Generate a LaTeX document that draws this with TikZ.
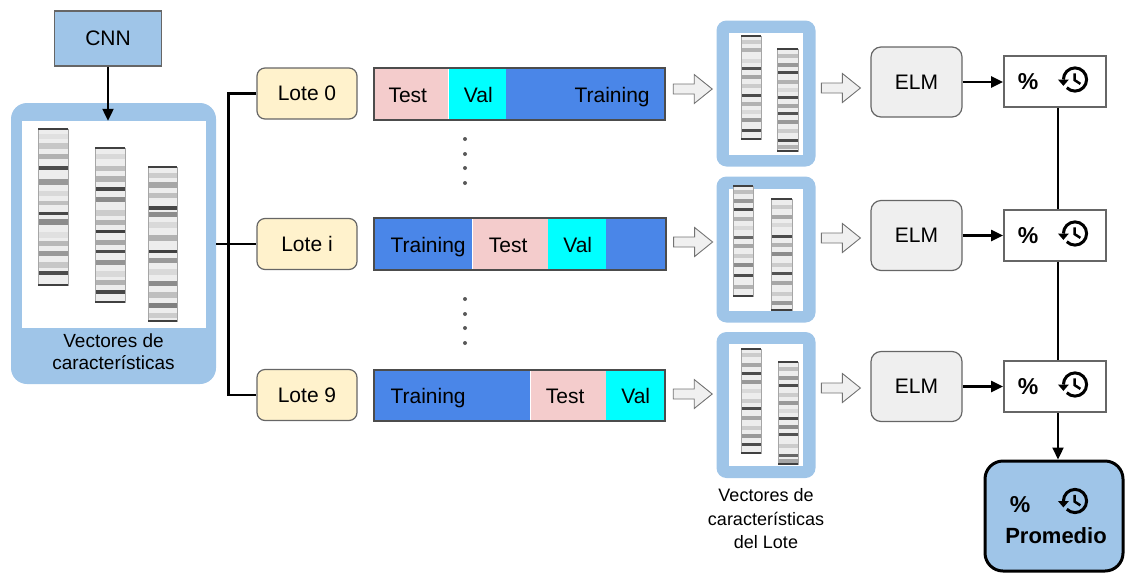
\documentclass[tikz,border=0pt]{standalone}
\usepackage{fontspec}
\setmainfont{Liberation Sans}
\usetikzlibrary{arrows.meta,positioning}

\definecolor{panelblue}{HTML}{9FC5E8}
\definecolor{lotefill}{HTML}{FFF2CC}
\definecolor{testfill}{HTML}{F4CCCC}
\definecolor{valfill}{HTML}{00FFFF}
\definecolor{trainfill}{HTML}{4A86E8}
\definecolor{elmfill}{HTML}{EFEFEF}
\definecolor{edgegray}{HTML}{666666}

% one feature vector drawn as a grey strip: x, y top, width, height, bands pos/shade/thickness
\newcommand{\vecstrip}[5]{%
	\fill[black!7] (#1,#2) rectangle ++(#3,#4);
	\foreach \p/\s/\h in {#5}{
		\fill[black!\s] (#1,{#2+\p*#4}) rectangle ++(#3,\h);
	}
	\draw[black!35, line width=0.8] (#1,#2) rectangle ++(#3,#4);
	\draw[black!75, line width=1.6] (#1,#2) -- ++(#3,0) (#1,{#2+#4}) -- ++(#3,0);
}

\tikzset{
	box/.style={draw=edgegray, line width=1.2, inner sep=0},
	lote/.style={box, fill=lotefill, rounded corners=8, minimum width=100, minimum height=51},
	seg/.style={inner sep=0, minimum height=51, anchor=west},
	barline/.style={draw=black!70, line width=2},
	panel/.style={fill=panelblue, rounded corners=10, inner sep=0, minimum width=99, minimum height=146},
	panelin/.style={fill=white, inner sep=0, minimum width=74, minimum height=122},
	elm/.style={box, fill=elmfill, rounded corners=10, minimum width=91, minimum height=70},
	res/.style={box, fill=white, line width=1.8, minimum width=102, minimum height=51},
	pct/.style={font=\bfseries\fontsize{23}{25}\selectfont},
	flow/.style={line width=2.2, -{Triangle[length=12pt, width=11pt]}},
	link/.style={line width=2.2},
	hollowarrow/.pic={
		\draw[black!55, fill=black!6, line width=0.9] (0,-5) -- (21,-5) -- (21,-14.5) -- (39,0) -- (21,14.5) -- (21,5) -- (0,5) -- cycle;
	},
	histicon/.pic={
		\begin{scope}[yscale=-1, scale=1.45]
			\draw[line width=3] (-8,0) arc[start angle=180, end angle=-135, radius=8];
			\fill (-11.8,0) -- (-4.2,0) -- (-8,-4.4) -- cycle;
			\draw[line width=2.5] (-0.3,4.3) -- (-0.3,-0.4) -- (3.7,-3);
		\end{scope}
	}
}

\begin{document}
\begin{tikzpicture}[x=1pt, y=-1pt, font=\fontsize{21}{25}\selectfont]
	\useasboundingbox (0,0) rectangle (1126,574);

	% CNN and the full set of vectors
	\node[box, fill=panelblue, minimum width=107, minimum height=55] (cnn) at (108,38.5) {CNN};
	\node[fill=panelblue, rounded corners=16, inner sep=0, minimum width=205, minimum height=281] (big) at (113.5,243.5) {};
	\node[fill=white, inner sep=0, minimum width=184, minimum height=207] (bigin) at (114,224.5) {};
	\node[align=center, font=\fontsize{19}{22}\selectfont] (bigcap) at (113.5,352) {Vectores de\\características};
	\draw[flow] (cnn.south) -- (cnn.south |- bigin.north);

	\vecstrip{38}{129}{30}{156}{0.03/12/5, 0.09/22/6, 0.16/30/5, 0.24/70/4, 0.32/40/6, 0.40/15/5, 0.46/25/4, 0.53/72/3, 0.58/45/6, 0.66/12/6, 0.72/28/5, 0.78/40/5, 0.85/22/6, 0.91/70/4}
	\vecstrip{95}{148}{30}{154}{0.04/15/5, 0.12/25/5, 0.18/30/6, 0.25/72/4, 0.32/45/5, 0.40/20/6, 0.47/30/5, 0.53/75/3, 0.60/35/5, 0.66/70/3, 0.73/42/5, 0.80/15/6, 0.86/30/5, 0.92/72/4}
	\vecstrip{148}{167}{29}{154}{0.04/20/5, 0.10/35/6, 0.17/25/5, 0.25/72/4, 0.29/45/5, 0.36/15/6, 0.44/30/6, 0.54/75/3, 0.59/40/5, 0.66/15/6, 0.74/45/5, 0.81/25/6, 0.88/50/5, 0.95/20/5}

	% batches
	\node[lote] (lote0) at (307,93.5) {Lote 0};
	\node[lote] (lotei) at (307,244) {Lote i};
	\node[lote] (lote9) at (307,395) {Lote 9};
	\draw[link] (big.east |- lotei.west) -- (lotei.west);
	\draw[link] (lote0.west) -- ++(-28,0) |- (lote9.west);

	% splits of each batch
	\node[seg, fill=testfill, minimum width=74] (test0) at (374,94) {};
	\node[seg, fill=valfill, minimum width=57, right=0pt of test0] (val0) {};
	\node[seg, fill=trainfill, minimum width=159, right=0pt of val0] (train0) {};
	\draw[barline] (test0.north west) rectangle (train0.south east);
	\node[anchor=base west] at ([xshift=11,yshift=-8]test0.west) {Test};
	\node[anchor=base west] at ([xshift=12,yshift=-8]val0.west) {Val};
	\node[anchor=base east] at ([xshift=-12,yshift=-8]train0.east) {Training};

	\node[seg, fill=trainfill, minimum width=98] (traini) at (374,244) {};
	\node[seg, fill=testfill, minimum width=75, right=0pt of traini] (testi) {};
	\node[seg, fill=valfill, minimum width=58, right=0pt of testi] (vali) {};
	\node[seg, fill=trainfill, minimum width=59, right=0pt of vali] (resti) {};
	\draw[barline] (traini.north west) rectangle (resti.south east);
	\node[anchor=base west] at ([xshift=13,yshift=-8]traini.west) {Training};
	\node[anchor=base west] at ([xshift=13,yshift=-8]testi.west) {Test};
	\node[anchor=base west] at ([xshift=12,yshift=-8]vali.west) {Val};

	\node[seg, fill=trainfill, minimum width=156] (train9) at (374,395.5) {};
	\node[seg, fill=testfill, minimum width=75, right=0pt of train9] (test9) {};
	\node[seg, fill=valfill, minimum width=59, right=0pt of test9] (val9) {};
	\draw[barline] (train9.north west) rectangle (val9.south east);
	\node[anchor=base west] at ([xshift=13,yshift=-8]train9.west) {Training};
	\node[anchor=base west] at ([xshift=12,yshift=-8]test9.west) {Test};
	\node[anchor=base west] at ([xshift=12,yshift=-8]val9.west) {Val};

	\foreach \y in {139,154,168,183,299,314,328,343}
		\fill[black!65] (465,\y) circle (2);

	% vectors of each batch
	\pic at ([xshift=8,yshift=5]train0.east) {hollowarrow};
	\pic at ([xshift=8,yshift=2]resti.east) {hollowarrow};
	\pic at ([xshift=8,yshift=1.5]val9.east) {hollowarrow};

	\node[panel] (pan0) at (766,93.5) {};
	\node[panelin] at (pan0) {};
	\vecstrip{741}{36}{20}{103}{0.04/20/4, 0.12/30/4, 0.22/15/4, 0.30/68/3, 0.38/35/4, 0.47/20/4, 0.56/70/3, 0.64/30/4, 0.72/15/4, 0.80/40/4, 0.90/70/3}
	\vecstrip{777}{49}{21}{102}{0.05/25/4, 0.14/40/4, 0.22/70/3, 0.30/30/4, 0.38/15/4, 0.46/70/3, 0.54/35/4, 0.62/68/3, 0.70/40/4, 0.78/20/4, 0.88/70/3, 0.94/30/4}

	\node[panel] (pani) at (766,249.5) {};
	\node[panelin] at (pani) {};
	\vecstrip{733}{186}{20}{110}{0.04/25/4, 0.12/40/4, 0.20/70/3, 0.28/30/4, 0.36/15/4, 0.45/60/3, 0.53/35/4, 0.62/20/4, 0.70/45/4, 0.80/70/3, 0.90/30/4}
	\vecstrip{771}{199}{21}{111}{0.05/20/4, 0.14/35/4, 0.22/15/4, 0.32/70/3, 0.40/30/4, 0.48/45/4, 0.58/20/4, 0.66/68/3, 0.74/35/4, 0.84/20/4, 0.92/40/4}

	\node[panel] (pan9) at (766,405) {};
	\node[panelin] at (pan9) {};
	\vecstrip{741}{349}{20}{104}{0.04/20/4, 0.13/35/4, 0.22/70/3, 0.30/40/4, 0.38/15/4, 0.48/20/4, 0.56/70/3, 0.64/35/4, 0.74/20/4, 0.82/40/4, 0.90/70/3}
	\vecstrip{778}{362}{20}{102}{0.05/25/4, 0.14/40/4, 0.22/70/3, 0.30/20/4, 0.38/40/4, 0.46/15/4, 0.54/70/3, 0.62/45/4, 0.70/68/3, 0.80/20/4, 0.90/60/3, 0.95/35/4}

	\node[align=center, font=\fontsize{18}{23.5}\selectfont] (pancap) at (766,519) {Vectores de\\características\\del Lote};

	% classifiers and their results
	\node[elm] (elm0) at (916.5,82) {ELM};
	\node[elm] (elmi) at (916.5,235.5) {ELM};
	\node[elm] (elm9) at (916.5,386.5) {ELM};
	\pic at ([xshift=-49,yshift=-6]elm0.west) {hollowarrow};
	\pic at ([xshift=-49,yshift=-2.5]elmi.west) {hollowarrow};
	\pic at ([xshift=-49,yshift=-1.5]elm9.west) {hollowarrow};

	\node[res] (res0) at (1055,81.5) {};
	\node[res] (resi) at (1055,235.5) {};
	\node[res] (res9) at (1055,386.5) {};
	\foreach \r in {res0,resi,res9}{
		\node[pct] at ([xshift=-27]\r.center) {\%};
		\pic at ([xshift=20,yshift=2]\r.center) {histicon};
	}
	\draw[flow] (elm0.east) -- (elm0.east -| res0.west);
	\draw[flow] (elmi.east) -- (elmi.east -| resi.west);
	\draw[flow] (elm9.east) -- (elm9.east -| res9.west);

	\node[fill=panelblue, draw=black, line width=3, rounded corners=18, minimum width=138, minimum height=110] (prom) at (1054,516) {};
	\node[pct] at (1020,505) {\%};
	\pic at (1075,501) {histicon};
	\node[font=\bfseries\fontsize{22}{25}\selectfont] at (1056,535.5) {Promedio};

	\draw[link] ([xshift=3]res0.south) -- ([xshift=3]resi.north);
	\draw[link] ([xshift=3]resi.south) -- ([xshift=3]res9.north);
	\draw[flow] ([xshift=3]res9.south) -- ([xshift=3]res9.south |- prom.north);
\end{tikzpicture}
\end{document}
